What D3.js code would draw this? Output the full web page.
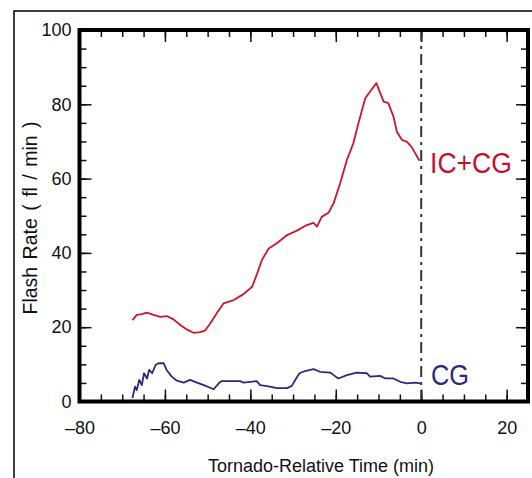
<!DOCTYPE html>
<html>
<head>
<meta charset="utf-8">
<script src="https://cdn.jsdelivr.net/npm/d3@7"></script>
<style>
  body { margin: 0; background: #fff; }
  svg { display: block; font-family: "Liberation Sans", Arial, Helvetica, sans-serif; }
</style>
</head>
<body>
<div id="chart"></div>
<script>
// IC+CG total flash rate (min, fl/min)
const totalTime = [-67.6, -66.6, -65.4, -64.2, -62.7, -61.1, -59.6, -58.0, -56.4, -54.9, -53.3, -51.8, -50.6,
  -49.4, -47.8, -46.3, -43.9, -41.6, -39.6, -38.4, -37.3, -35.7, -33.8, -31.4, -29.1, -26.8, -25.2, -24.4,
  -23.3, -21.7, -20.5, -19.0, -17.4, -15.9, -14.7, -13.1, -12.0, -10.5, -9.6, -8.8, -7.7, -6.5, -5.7, -4.5,
  -3.3, -2.2, -0.4];
const totalRate = [21.9, 23.3, 23.5, 23.9, 23.3, 22.8, 23.0, 22.1, 20.6, 19.4, 18.5, 18.7, 19.1,
  21.0, 23.9, 26.4, 27.3, 28.9, 30.9, 34.5, 38.1, 41.2, 42.6, 44.8, 46.0, 47.5, 48.1, 47.1,
  49.7, 50.8, 53.4, 58.7, 65.0, 69.5, 74.9, 81.6, 83.4, 85.7, 83.0, 80.7, 80.3, 76.7, 72.6, 70.4,
  69.9, 68.4, 64.8];

// CG flash rate
const cgTime = [-67.6, -67.0, -66.6, -66.0, -65.4, -64.9, -64.2, -63.7, -63.0, -62.2, -61.5, -60.3, -59.6,
  -58.4, -57.2, -55.6, -54.1, -52.5, -50.9, -49.4, -48.6, -47.4, -46.7, -42.4, -41.6, -40.0, -38.5, -37.7,
  -35.4, -33.8, -31.4, -30.3, -29.5, -28.5, -27.2, -25.2, -23.7, -21.3, -20.5, -19.4, -17.4, -15.1, -12.7,
  -12.0, -9.6, -8.4, -6.5, -4.9, -3.3, -1.4, -0.2];
const cgRate = [0.9, 4.0, 3.1, 5.8, 4.4, 7.6, 6.2, 8.5, 7.6, 9.8, 10.3, 10.3, 8.5,
  6.7, 5.6, 5.1, 5.8, 5.1, 4.4, 3.7, 3.3, 4.9, 5.5, 5.5, 5.1, 5.3, 5.5, 4.4,
  4.0, 3.6, 3.6, 4.2, 5.8, 7.6, 8.2, 8.7, 8.0, 7.8, 7.1, 6.2, 7.1, 7.8, 7.6,
  6.7, 6.9, 6.2, 6.2, 5.3, 4.9, 5.1, 4.9];

const xLabels = [-80, -60, -40, -20, 0, 20];
const yLabels = [0, 20, 40, 60, 80, 100];
const tornadoTime = 0;

const W = 532, H = 478;
const plotL = 79.5, plotR = 528, plotT = 30, plotB = 401.5;

const svg = d3.select("#chart").append("svg")
  .attr("width", W)
  .attr("height", H);

// outer frame of the figure panel
svg.append("rect")
  .attr("x", 14).attr("y", 11)
  .attr("width", 540).attr("height", 500)
  .attr("fill", "none")
  .attr("stroke", "#000")
  .attr("stroke-width", 1.5);

const x = d3.scaleLinear().domain([-80, 25]).range([plotL, plotR]);
const y = d3.scaleLinear().domain([0, 100]).range([plotB, plotT]);

const minorX = d3.range(-80, 26, 5);
const minorY = d3.range(0, 101, 5);

// inward ticks, minor then major
function ticks(axisFn, scale, vals, size, tr) {
  svg.append("g")
    .attr("transform", tr)
    .call(axisFn(scale).tickValues(vals).tickSize(size).tickFormat(""))
    .call(g => g.select(".domain").remove())
    .call(g => g.selectAll("line").attr("stroke", "#111").attr("stroke-width", 1.5));
}
ticks(d3.axisTop, x, minorX, 7, `translate(0,${plotB})`);
ticks(d3.axisTop, x, xLabels, 12, `translate(0,${plotB})`);
ticks(d3.axisBottom, x, minorX, 7, `translate(0,${plotT})`);
ticks(d3.axisBottom, x, xLabels, 12, `translate(0,${plotT})`);
ticks(d3.axisRight, y, minorY, 7, `translate(${plotL},0)`);
ticks(d3.axisRight, y, yLabels, 12, `translate(${plotL},0)`);
ticks(d3.axisLeft, y, minorY, 7, `translate(${plotR},0)`);
ticks(d3.axisLeft, y, yLabels, 12, `translate(${plotR},0)`);

// tick labels
svg.append("g")
  .attr("transform", `translate(0,${plotB})`)
  .call(d3.axisBottom(x).tickValues(xLabels).tickSize(0).tickPadding(20)
    .tickFormat(d => d < 0 ? "\u2013" + Math.abs(d) : d))
  .call(g => g.select(".domain").remove())
  .call(g => g.selectAll("text").attr("font-size", 18).attr("fill", "#111")
    .attr("font-family", "Liberation Sans, Arial, sans-serif"));

svg.append("g")
  .attr("transform", `translate(${plotL},0)`)
  .call(d3.axisLeft(y).tickValues(yLabels).tickSize(0).tickPadding(8))
  .call(g => g.select(".domain").remove())
  .call(g => g.selectAll("text").attr("font-size", 18).attr("fill", "#111")
    .attr("font-family", "Liberation Sans, Arial, sans-serif"));

// tornado time marker
svg.append("line")
  .attr("x1", x(tornadoTime)).attr("x2", x(tornadoTime))
  .attr("y1", plotT).attr("y2", plotB)
  .attr("stroke", "#333")
  .attr("stroke-width", 2)
  .attr("stroke-dasharray", "11,5,3,5");

const line = d3.line().x(d => x(d[0])).y(d => y(d[1]));

svg.append("path")
  .datum(totalTime.map((t, i) => [t, totalRate[i]]))
  .attr("d", line)
  .attr("fill", "none")
  .attr("stroke", "#d0152b")
  .attr("stroke-width", 1.8)
  .attr("stroke-linejoin", "round");

svg.append("path")
  .datum(cgTime.map((t, i) => [t, cgRate[i]]))
  .attr("d", line)
  .attr("fill", "none")
  .attr("stroke", "#2a2a7e")
  .attr("stroke-width", 1.8)
  .attr("stroke-linejoin", "round");

// series labels
svg.append("text")
  .attr("x", 430).attr("y", 173)
  .attr("font-size", 30)
  .attr("fill", "#c8102e")
  .attr("textLength", 82)
  .attr("lengthAdjust", "spacingAndGlyphs")
  .text("IC+CG");

svg.append("text")
  .attr("x", 431).attr("y", 385)
  .attr("font-size", 30)
  .attr("fill", "#2a2a80")
  .attr("textLength", 38)
  .attr("lengthAdjust", "spacingAndGlyphs")
  .text("CG");

// border
svg.append("rect")
  .attr("x", plotL).attr("y", plotT)
  .attr("width", plotR - plotL).attr("height", plotB - plotT)
  .attr("fill", "none")
  .attr("stroke", "#000")
  .attr("stroke-width", 4);

// axis titles
svg.append("text")
  .attr("x", 321).attr("y", 472)
  .attr("text-anchor", "middle")
  .attr("font-size", 18)
  .attr("fill", "#111")
  .text("Tornado-Relative Time (min)");

svg.append("text")
  .attr("transform", "translate(37,218) rotate(-90)")
  .attr("text-anchor", "middle")
  .attr("font-size", 19.5)
  .attr("fill", "#111")
  .style("word-spacing", "2px")
  .text("Flash Rate ( fl / min )");
</script>
</body>
</html>
